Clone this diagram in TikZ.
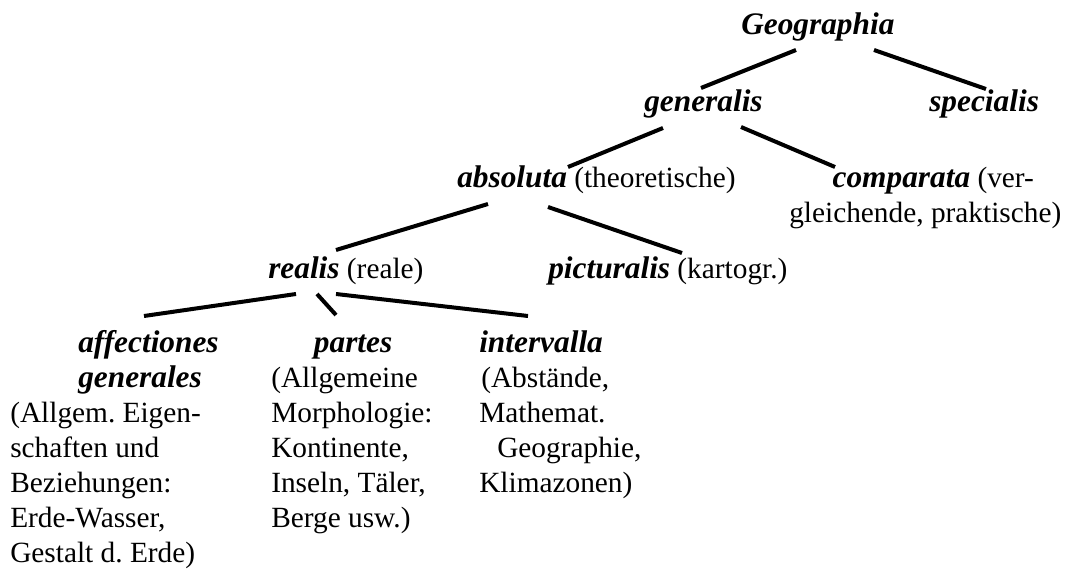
\documentclass[tikz,border=0pt]{standalone}
\usepackage{fontspec}
\setmainfont{Liberation Serif}
\frenchspacing
\newcommand\nm[1]{{\fontsize{23.5}{26.25}\selectfont\bfseries\itshape #1}}

\begin{document}
\begin{tikzpicture}[
  x=0.75pt,y=-0.75pt,
  every node/.style={font=\fontsize{22}{26.25}\selectfont,inner sep=0pt,anchor=base west},
  textblock/.style={align=left},
  branch/.style={line width=3pt}
]
\useasboundingbox (0,0) rectangle (1068,574);

% levels of the tree (multi-line nodes sit on their last line)
\node (geo)  at (741,35)  {\nm{Geographia}};
\node (gen)  at (644,112) {\nm{generalis}};
\node (spec) at (929,112) {\nm{specialis}};
\node (abs)  at (457,188) {\nm{absoluta} (theoretische)};
\node[align=center] (comp) at (789,223) {\hspace*{12pt}\nm{comparata} (ver-\\gleichende, praktische)};
\node (real) at (268,278) {\nm{realis} (reale)};
\node (pict) at (548,278) {\nm{picturalis} (kartogr.)};

\node[textblock] (aff) at (10,562)
  {\hspace*{51pt}\nm{affectiones}\\\hspace*{51pt}\nm{generales}\\(Allgem. Eigen-\\schaften und\\Beziehungen:\\Erde-Wasser,\\Gestalt d. Erde)};
\node[textblock] (part) at (271,527)
  {\hspace*{32pt}\nm{partes}\\(Allgemeine\\Morphologie:\\Kontinente,\\Inseln, Täler,\\Berge usw.)};
\node[textblock] (intv) at (479,492)
  {\nm{intervalla}\\\hspace*{1.5pt}(Abstände,\\Mathemat.\\\hspace*{13.5pt}Geographie,\\Klimazonen)};

% branches
\draw[branch] ([shift={(55,15)}]geo.base west)   -- ([shift={(57,-24)}]gen.base west);
\draw[branch] ([shift={(133,15)}]geo.base west)  -- ([shift={(57,-23)}]spec.base west);
\draw[branch] ([shift={(19,16)}]gen.base west)   -- ([shift={(111,-21)}]abs.base west);
\draw[branch] ([shift={(97,15)}]gen.base west)   -- ([shift={(46,-56)}]comp.base west);
\draw[branch] ([shift={(31,16)}]abs.base west)   -- ([shift={(68,-28)}]real.base west);
\draw[branch] ([shift={(91,19)}]abs.base west)   -- ([shift={(134,-25)}]pict.base west);
\draw[branch] ([shift={(28,16)}]real.base west)  -- ([shift={(134,-246)}]aff.base west);
\draw[branch] ([shift={(49,16)}]real.base west)  -- ([shift={(65,-212)}]part.base west);
\draw[branch] ([shift={(68,16)}]real.base west)  -- ([shift={(49,-176)}]intv.base west);

\end{tikzpicture}
\end{document}
